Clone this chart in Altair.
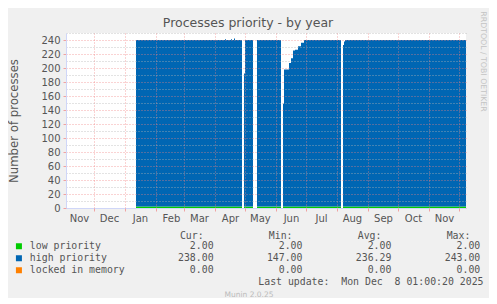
import altair as alt
import pandas as pd

# ---------------- text ----------------
TITLE = "Processes priority - by year"
Y_TITLE = "Number of processes"
WATERMARK = "RRDTOOL / TOBI OETIKER"
VERSION = "Munin 2.0.25"
LAST_UPDATE = "Last update:  Mon Dec  8 01:00:20 2025"

# ---------------- series ----------------
SERIES = ["low priority", "high priority", "locked in memory"]
COLORS = ["#00CC00", "#0066B3", "#FF8000"]

STAT_HEADS = ["Cur:", "Min:", "Avg:", "Max:"]
CUR = [2.00, 238.00, 0.00]
MIN = [2.00, 147.00, 0.00]
AVG = [2.00, 236.29, 0.00]
MAX = [2.00, 243.00, 0.00]

# high priority values (step changes); None = no data from that day on
HIGH_DATES = [
    "2025-01-12", "2025-04-11", "2025-04-12", "2025-04-17", "2025-04-18",
    "2025-04-20", "2025-04-21", "2025-04-28",
    "2025-04-30", "2025-05-01", "2025-05-09",
    "2025-05-13", "2025-06-06",
    "2025-06-08", "2025-06-09", "2025-06-14", "2025-06-16", "2025-06-18",
    "2025-06-20", "2025-06-23", "2025-06-26", "2025-06-29", "2025-08-05",
    "2025-08-07", "2025-08-08", "2025-08-09", "2025-12-08",
]
HIGH_VALUES = [
    238, 239, 238, 239, 238,
    240, 238, None,
    190, 238, None,
    238, None,
    147, 196, 205, 212, 223,
    224, 229, 234, 238, None,
    231, 236, 238, None,
]
LOW_VALUE = 2
LOCKED_VALUE = 0

Y_MAJOR = list(range(0, 241, 20))
Y_MINOR = list(range(10, 251, 20))
GRID_MONTHS = [(2024, 12)] + [(2025, m) for m in range(1, 13)]
LABEL_MONTHS = [(2024, 11), (2024, 12)] + [(2025, m) for m in range(1, 12)]

# ---------------- build table ----------------
rows = []


def add(date, v, seg):
    t = date + "T01:00:00Z"
    rows.append({"date": t, "series": SERIES[0], "seg": seg, "lo": 0, "hi": LOW_VALUE})
    rows.append({"date": t, "series": SERIES[1], "seg": seg, "lo": LOW_VALUE, "hi": LOW_VALUE + v})
    rows.append({"date": t, "series": SERIES[2], "seg": seg,
                 "lo": LOW_VALUE + v, "hi": LOW_VALUE + v + LOCKED_VALUE})


seg, prev = 0, None
for d, v in zip(HIGH_DATES, HIGH_VALUES):
    if v is None:
        if prev is not None:
            add(d, prev, seg)
            seg += 1
        prev = None
    else:
        add(d, v, seg)
        prev = v
df = pd.DataFrame(rows)

# ---------------- legend strings (monospace columns) ----------------
NB = "\u00a0"
ZW = "\u200b"
VAL_END = [31, 46, 61, 76]
HEAD_END = [30, 45, 60, 75]


def stat_line(name, vals):
    s = name
    for v, e in zip(vals, VAL_END):
        txt = f"{v:.2f}"
        s = s + NB * (e - len(txt) - len(s)) + txt
    return s


header = ""
for h, e in zip(STAT_HEADS, HEAD_END):
    header = header + NB * (e - len(h) - len(header)) + h
header = ZW + NB * 2 + header

lines = [stat_line(n, [CUR[i], MIN[i], AVG[i], MAX[i]]) for i, n in enumerate(SERIES)]
label_expr = (
    f"datum.label == '{SERIES[0]}' ? '{lines[0]}' : "
    f"datum.label == '{SERIES[1]}' ? '{lines[1]}' : '{lines[2]}'"
)

FONT = "#555555"
SANS = "DejaVu Sans"
MONO = "DejaVu Sans Mono"
AXIS_COL = "#CFD6F8"
MGRID = "#F08080"
MGRID_OP = 0.7
GRID = "#B4B4B4"
GRID_OP = 0.75

legend = alt.Legend(
    orient="none", legendX=-52, legendY=197.5, direction="vertical",
    symbolType="square", symbolSize=36, symbolStrokeWidth=0, symbolOpacity=1,
    labelFont=MONO, labelFontSize=9.85, labelColor=FONT, labelLimit=1000,
    labelOffset=6, labelExpr=label_expr, clipHeight=12,
    title=header, titleFont=MONO, titleFontSize=9.85, titleFontWeight="normal",
    titleColor=FONT, titlePadding=0, titleLimit=1000, rowPadding=0, padding=0,
)

color = alt.Color("series:N", scale=alt.Scale(domain=SERIES, range=COLORS), legend=legend)

x_scale = alt.Scale(
    type="utc",
    domain=[alt.DateTime(year=2024, month=11, date=3, hours=1, utc=True),
            alt.DateTime(year=2025, month=12, date=8, hours=1, utc=True)],
)
y_scale = alt.Scale(domain=[0, 250], nice=False, zero=True)

axis_x_labels = alt.Axis(
    orient="bottom",
    values=[alt.DateTime(year=y, month=m, date=16, utc=True) for y, m in LABEL_MONTHS],
    labelExpr="utcFormat(datum.value, '%b')", grid=False, ticks=False, tickSize=0,
    labelPadding=5.5, labelFont=SANS, labelFontSize=10, labelColor=FONT,
    labelFlush=False, labelOverlap=False,
    domain=True, domainColor=AXIS_COL, domainWidth=1,
    title=LAST_UPDATE.replace(" ", NB), titleFont=MONO, titleFontSize=9.85,
    titleFontWeight="normal", titleColor=FONT, titleAlign="right",
    titleX=417, titleY=76.3, titleBaseline="alphabetic", zindex=1,
)
axis_x_grid = alt.Axis(
    orient="bottom",
    values=[alt.DateTime(year=y, month=m, date=1, utc=True) for y, m in GRID_MONTHS],
    labels=False, grid=True, gridColor=MGRID, gridOpacity=MGRID_OP, gridDash=[1, 2],
    ticks=True, tickColor=MGRID, tickOpacity=MGRID_OP, tickSize=3,
    domain=False,
    title=VERSION, titleFont=SANS, titleFontSize=7.5, titleFontWeight="normal",
    titleColor="#BBBBBB", titleAlign="center", titleX=182.5, titleY=88.5,
    titleBaseline="alphabetic", zindex=1,
)
axis_y_major = alt.Axis(
    orient="left", values=Y_MAJOR,
    grid=True, gridColor=MGRID, gridOpacity=MGRID_OP, gridDash=[1, 2],
    ticks=True, tickColor=MGRID, tickOpacity=MGRID_OP, tickSize=3,
    labelPadding=3, labelFont=SANS, labelFontSize=10, labelColor=FONT,
    labelOverlap=False, labelFlush=False,
    domain=True, domainColor=AXIS_COL, domainWidth=1,
    title=Y_TITLE, titleFont=SANS, titleFontSize=11.7, titleFontWeight="normal",
    titleColor=FONT, titleAngle=270, titleX=-49, titleY=87.5,
    titleAlign="center", titleBaseline="alphabetic", zindex=1,
)
axis_y_minor = alt.Axis(
    orient="right", values=Y_MINOR,
    grid=True, gridColor=GRID, gridOpacity=GRID_OP, gridDash=[1, 2],
    labels=False, ticks=False, domain=False,
    title=WATERMARK, titleFont=SANS, titleFontSize=7.8, titleFontWeight="normal",
    titleColor="#C4C4C4", titleAngle=90, titleX=14, titleY=28,
    titleAlign="center", titleBaseline="alphabetic", titleLimit=500, zindex=1,
)

base = alt.Chart(df).mark_area(interpolate="step-after", opacity=1)

low_layer = base.transform_filter(alt.datum.series == SERIES[0]).encode(
    x=alt.X("date:T", scale=x_scale, axis=axis_x_labels),
    y=alt.Y("hi:Q", scale=y_scale, axis=axis_y_major),
    y2="lo:Q",
    color=color,
    detail="seg:N",
)
rest_layer = base.transform_filter(alt.datum.series != SERIES[0]).encode(
    x=alt.X("date:T", scale=x_scale, axis=axis_x_grid),
    y=alt.Y("hi:Q", scale=y_scale, axis=axis_y_minor),
    y2="lo:Q",
    color=color,
    detail="seg:N",
)

chart = (
    alt.layer(low_layer, rest_layer)
    .resolve_axis(x="independent", y="independent")
    .properties(
        width=400, height=175,
        title=alt.TitleParams(TITLE, font=SANS, fontSize=12.5, fontWeight="normal",
                              color=FONT, anchor="middle", baseline="alphabetic",
                              dx=-18, dy=33),
        autosize=alt.AutoSizeParams(type="none"),
        padding={"left": 58, "top": 25, "right": 23, "bottom": 90},
        background="#F0F0F0",
    )
    .configure_view(fill="#FFFFFF", strokeWidth=0)
)

chart.save("out.html", embed_options={"renderer": "svg", "actions": False})
